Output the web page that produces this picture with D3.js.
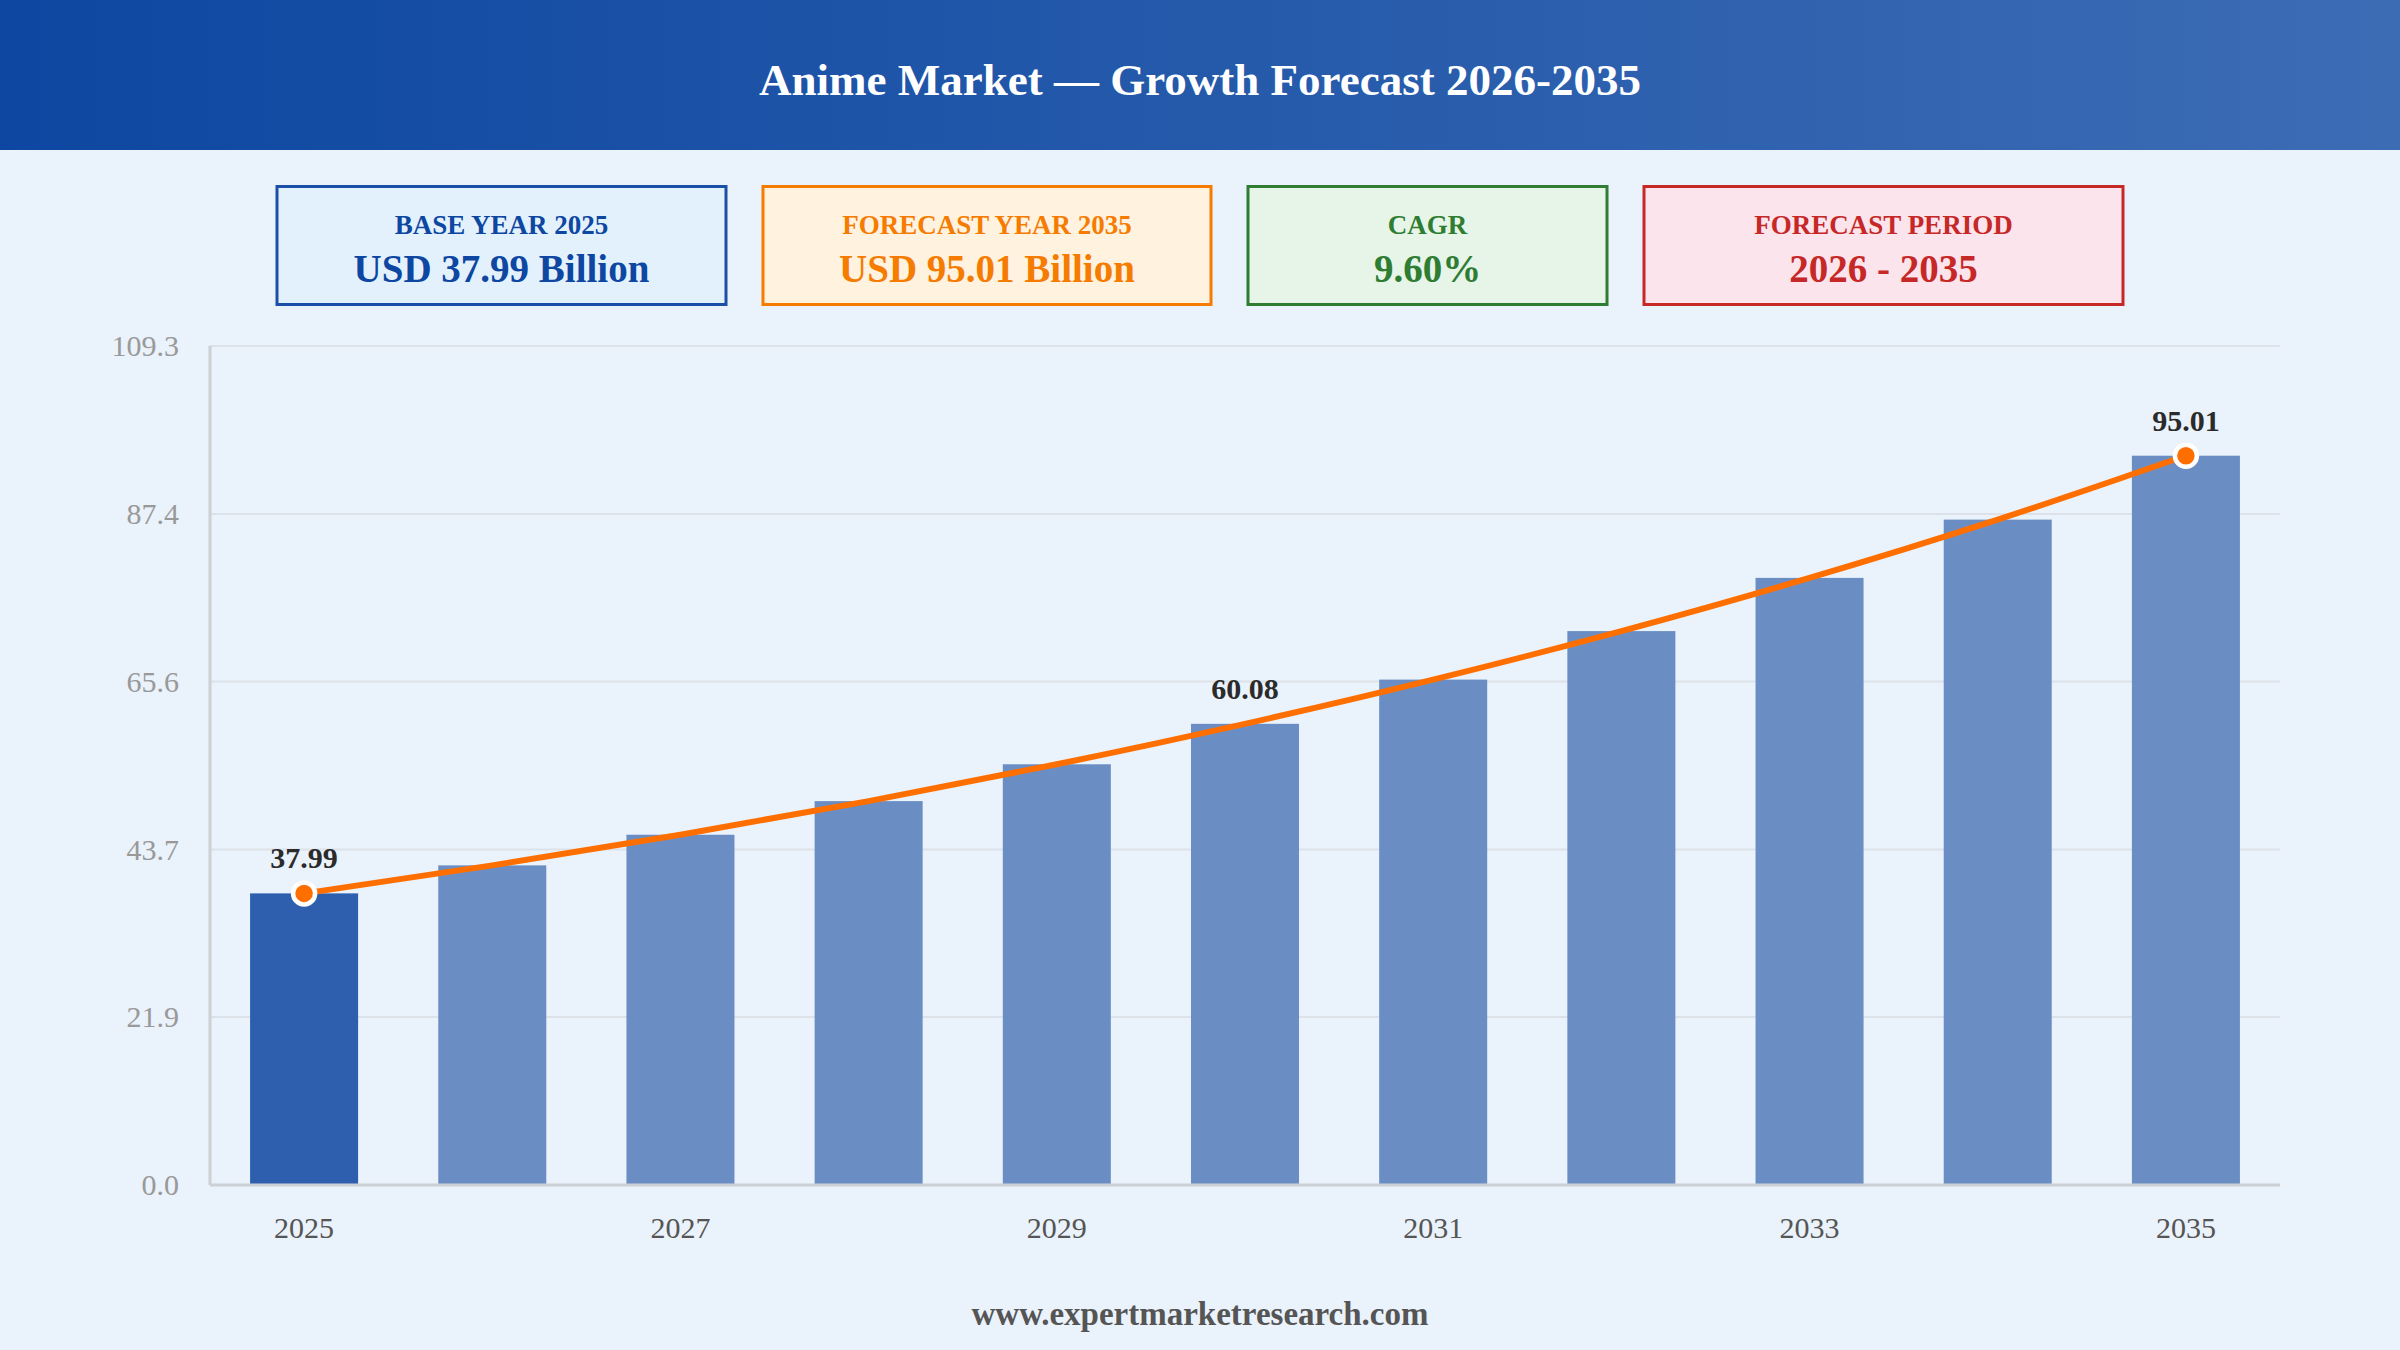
<!DOCTYPE html>
<html>
<head>
<meta charset="utf-8">
<title>Anime Market — Growth Forecast 2026-2035</title>
<script src="https://cdn.jsdelivr.net/npm/d3@7/dist/d3.min.js"></script>
<style>
    html, body { margin: 0; padding: 0; background: #eaf2fb; }
    #chart { width: 2400px; height: 1350px; }
    text { font-family: "Liberation Serif", "Times New Roman", serif; }
</style>
</head>
<body>
<div id="chart"></div>
<script>
'use strict';

// Data
const years = [2025, 2026, 2027, 2028, 2029, 2030, 2031, 2032, 2033, 2034, 2035];
const marketValues = [37.99, 41.64, 45.63, 50.01, 54.81, 60.08, 65.84, 72.16, 79.09, 86.68, 95.01];
const yTicks = [0.0, 21.9, 43.7, 65.6, 87.4, 109.3];
const xTickYears = [2025, 2027, 2029, 2031, 2033, 2035];
const labeledYears = [2025, 2030, 2035];
const markerYears = [2025, 2035];
const kpiLabels = ['BASE YEAR 2025', 'FORECAST YEAR 2035', 'CAGR', 'FORECAST PERIOD'];
const kpiValues = ['USD 37.99 Billion', 'USD 95.01 Billion', '9.60%', '2026 - 2035'];
const titleText = 'Anime Market — Growth Forecast 2026-2035';
const footerText = 'www.expertmarketresearch.com';

class ForecastChart {

    constructor(_parent) {
        this.parent = _parent;
        this.data = years.map((y, i) => ({year: y, value: marketValues[i]}));
        this.initVis();
    }

    initVis() {
        // Get this vis
        const vis = this;

        // Config
        vis.w = 2400;
        vis.h = 1350;

        vis.svg = d3.select(`#${vis.parent}`)
            .append('svg')
            .attr('width', vis.w)
            .attr('height', vis.h);

        // Background
        vis.svg.append('rect')
            .attr('width', vis.w)
            .attr('height', vis.h)
            .attr('fill', '#eaf2fb');

        // Header gradient
        const grad = vis.svg.append('defs')
            .append('linearGradient')
            .attr('id', 'headGrad')
            .attr('x1', '0%').attr('x2', '100%')
            .attr('y1', '0%').attr('y2', '0%');
        grad.append('stop').attr('offset', '0%').attr('stop-color', '#0d47a1');
        grad.append('stop').attr('offset', '100%').attr('stop-color', '#3c6cb4');

        vis.svg.append('rect')
            .attr('width', vis.w)
            .attr('height', 150)
            .attr('fill', 'url(#headGrad)');

        vis.svg.append('text')
            .attr('x', vis.w / 2)
            .attr('y', 80)
            .attr('text-anchor', 'middle')
            .attr('dominant-baseline', 'central')
            .attr('fill', '#ffffff')
            .attr('font-size', 45)
            .attr('font-weight', 'bold')
            .text(titleText);

        // KPI boxes
        vis.buildKpis();

        // Plot area
        vis.left = 210;
        vis.right = 2280;
        vis.top = 346;
        vis.bottom = 1185;

        vis.xScale = d3.scaleBand()
            .domain(years)
            .range([vis.left, vis.right])
            .paddingInner(0.426)
            .paddingOuter(0.213);

        vis.yScale = d3.scaleLinear()
            .domain([0, d3.max(yTicks)])
            .range([vis.bottom, vis.top]);

        vis.g = vis.svg.append('g').attr('class', 'plotG');

        // Grid
        vis.g.append('g')
            .attr('class', 'gridG')
            .selectAll('line')
            .data(yTicks.filter(t => t > 0))
            .join('line')
            .attr('x1', vis.left)
            .attr('x2', vis.right)
            .attr('y1', d => vis.yScale(d))
            .attr('y2', d => vis.yScale(d))
            .attr('stroke', '#dde2e8')
            .attr('stroke-width', 2);

        // Y axis
        const yAxis = d3.axisLeft(vis.yScale)
            .tickValues(yTicks)
            .tickFormat(d3.format('.1f'))
            .tickSize(0)
            .tickPadding(31);
        vis.yAxisG = vis.g.append('g')
            .attr('transform', `translate(${vis.left},0)`)
            .call(yAxis);
        vis.yAxisG.select('.domain').remove();
        vis.yAxisG.selectAll('text')
            .attr('font-size', 30)
            .attr('fill', '#999999')
            .attr('font-family', '"Liberation Serif", "Times New Roman", serif');

        // X axis
        const xAxis = d3.axisBottom(vis.xScale)
            .tickValues(xTickYears)
            .tickSize(0)
            .tickPadding(32);
        vis.xAxisG = vis.g.append('g')
            .attr('transform', `translate(0,${vis.bottom})`)
            .call(xAxis);
        vis.xAxisG.select('.domain').remove();
        vis.xAxisG.selectAll('text')
            .attr('font-size', 30)
            .attr('fill', '#555555')
            .attr('font-family', '"Liberation Serif", "Times New Roman", serif');

        // Footer
        vis.svg.append('text')
            .attr('x', vis.w / 2)
            .attr('y', 1325)
            .attr('text-anchor', 'middle')
            .attr('fill', '#555555')
            .attr('font-size', 33)
            .attr('font-weight', 'bold')
            .text(footerText);

        vis.updateVis();
    }

    buildKpis() {
        // Get this vis
        const vis = this;

        const widths = [452, 451, 362, 482];
        const gap = 34;
        const boxH = 121;
        const boxY = 185;
        const styles = [
            {stroke: '#1a50a6', fill: '#e3f1fd', text: '#0d47a1'},
            {stroke: '#f57c00', fill: '#fff2df', text: '#f57c00'},
            {stroke: '#2e7d32', fill: '#e7f4e8', text: '#2e7d32'},
            {stroke: '#c62828', fill: '#fce4ec', text: '#c62828'}
        ];
        const total = d3.sum(widths) + gap * (widths.length - 1);
        let x = (vis.w - total) / 2;

        kpiLabels.forEach((label, i) => {
            const s = styles[i];
            const g = vis.svg.append('g')
                .attr('class', 'kpiG')
                .attr('transform', `translate(${x},${boxY})`);
            g.append('rect')
                .attr('x', 1.5)
                .attr('y', 1.5)
                .attr('width', widths[i] - 3)
                .attr('height', boxH - 3)
                .attr('fill', s.fill)
                .attr('stroke', s.stroke)
                .attr('stroke-width', 3);
            g.append('text')
                .attr('x', widths[i] / 2)
                .attr('y', 49)
                .attr('text-anchor', 'middle')
                .attr('fill', s.text)
                .attr('font-size', 27)
                .attr('font-weight', 'bold')
                .text(label);
            g.append('text')
                .attr('x', widths[i] / 2)
                .attr('y', 97)
                .attr('text-anchor', 'middle')
                .attr('fill', s.text)
                .attr('font-size', 39)
                .attr('font-weight', 'bold')
                .text(kpiValues[i]);
            x += widths[i] + gap;
        });
    }

    updateVis() {
        // Get this vis
        const vis = this;
        const cx = d => vis.xScale(d.year) + vis.xScale.bandwidth() / 2;

        // Bars
        vis.g.append('g')
            .attr('class', 'barG')
            .selectAll('rect')
            .data(vis.data)
            .join('rect')
            .attr('x', d => vis.xScale(d.year))
            .attr('y', d => vis.yScale(d.value))
            .attr('width', vis.xScale.bandwidth())
            .attr('height', d => vis.bottom - vis.yScale(d.value))
            .attr('fill', d => d.year === years[0] ? '#2d5fae' : '#6a8ec4');

        // Axis lines
        vis.g.append('line')
            .attr('x1', vis.left).attr('x2', vis.left)
            .attr('y1', vis.top).attr('y2', vis.bottom)
            .attr('stroke', '#cdd0d5')
            .attr('stroke-width', 3);
        vis.g.append('line')
            .attr('x1', vis.left).attr('x2', vis.right)
            .attr('y1', vis.bottom).attr('y2', vis.bottom)
            .attr('stroke', '#cdd0d5')
            .attr('stroke-width', 3);

        // Trend line
        const lineMaker = d3.line()
            .x(cx)
            .y(d => vis.yScale(d.value))
            .curve(d3.curveMonotoneX);
        vis.g.append('path')
            .datum(vis.data)
            .attr('fill', 'none')
            .attr('stroke', '#ff6f00')
            .attr('stroke-width', 6)
            .attr('stroke-linecap', 'round')
            .attr('d', lineMaker);

        // Markers
        vis.g.selectAll('.marker')
            .data(vis.data.filter(d => markerYears.includes(d.year)))
            .join('circle')
            .attr('class', 'marker')
            .attr('cx', cx)
            .attr('cy', d => vis.yScale(d.value))
            .attr('r', 11)
            .attr('fill', '#ff6f00')
            .attr('stroke', '#ffffff')
            .attr('stroke-width', 4.5);

        // Value labels
        vis.g.selectAll('.valLabel')
            .data(vis.data.filter(d => labeledYears.includes(d.year)))
            .join('text')
            .attr('class', 'valLabel')
            .attr('x', cx)
            .attr('y', d => vis.yScale(d.value) - 25)
            .attr('text-anchor', 'middle')
            .attr('fill', '#2b2b2b')
            .attr('font-size', 30)
            .attr('font-weight', 'bold')
            .text(d => d.value.toFixed(2));
    }
}

new ForecastChart('chart');
</script>
</body>
</html>
